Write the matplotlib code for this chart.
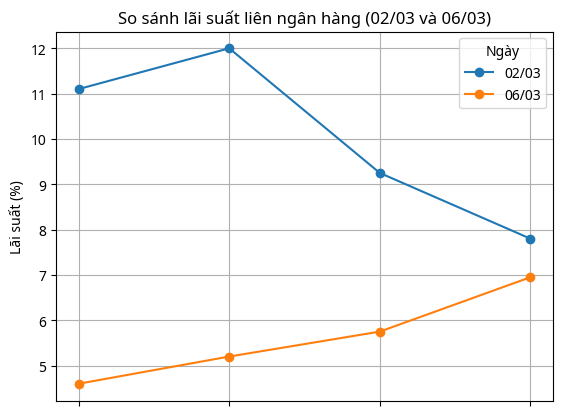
import matplotlib
matplotlib.use("Agg")
import matplotlib.pyplot as plt

# dates (legend) and interbank rates per term; term labels are blank in the source
dates = ["02/03", "06/03"]
terms = ["", " ", "  ", "   "]
rates_0203 = [11.1, 12.0, 9.25, 7.8]
rates_0603 = [4.6, 5.2, 5.75, 6.95]

plt.rcParams["font.family"] = ["Noto Sans", "DejaVu Sans"]

fig = plt.figure(figsize=(5.64, 4.10), dpi=100)
ax = fig.add_axes([0.0993, 0.0207, 0.8812, 0.9])

x = range(len(terms))
ax.plot(x, rates_0203, marker="o", label=dates[0])
ax.plot(x, rates_0603, marker="o", label=dates[1])
ax.set_xticks(list(x))
ax.set_xticklabels(terms)

ax.set_title("So sánh lãi suất liên ngân hàng (02/03 và 06/03)")
ax.set_ylabel("Lãi suất (%)")
ax.grid(True)
ax.legend(title="Ngày", loc="upper right")

fig.savefig("out.png", dpi=100)
